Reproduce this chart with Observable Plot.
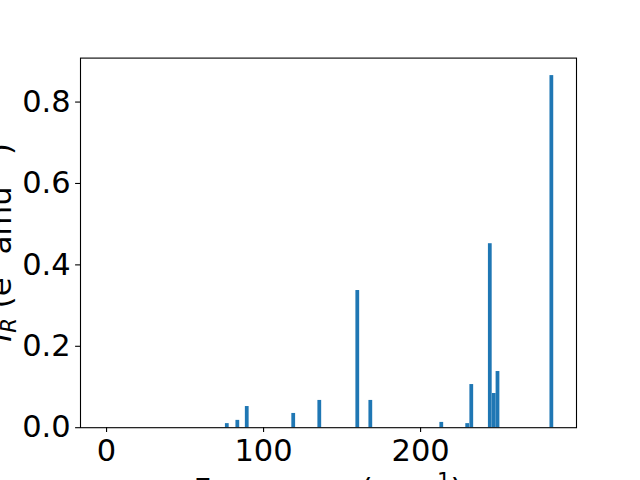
<!DOCTYPE html>
<html><head><meta charset="utf-8">
<script src="https://cdn.jsdelivr.net/npm/d3@7"></script>
<script src="https://cdn.jsdelivr.net/npm/@observablehq/plot@0.6"></script>
<style>body{margin:0;background:white} #chart svg{overflow:hidden;display:block}</style>
</head><body><div id="chart"></div>
<script>
// Data
const frequencies = [76.9, 83.6, 89.6, 119.2, 135.8, 160.0, 168.3, 213.5, 230.0, 232.6, 244.4, 246.9, 249.3, 283.6];
const intensities = [0.010, 0.018, 0.052, 0.035, 0.067, 0.337, 0.067, 0.013, 0.010, 0.106, 0.452, 0.084, 0.138, 0.865];
const xTicks = [0, 100, 200];
const yTicks = [0, 0.2, 0.4, 0.6, 0.8];
const xLabelMain = "Frequency (cm";
const xLabelSup = "\u22121";
const yLabelParts = ["I", "R", " (e", "2", " amu", "\u22121", ")"];

const data = frequencies.map((f, i) => ({f, v: intensities[i]}));
const BAR_W = 2.4;
const W = 640, H = 480, ML = 80, MR = 64, MT = 57.6, MB = 52.8;
const FS = 30.5;

const svg = Plot.plot({
  width: W, height: H,
  marginLeft: ML, marginRight: MR, marginTop: MT, marginBottom: MB,
  style: {fontFamily: "DejaVu Sans", fontSize: FS + "px", color: "black", background: "white"},
  x: {domain: [-16.6, 299.3]},
  y: {domain: [0, 0.908]},
  marks: [
    Plot.rectY(data, {x1: d => d.f - BAR_W / 2, x2: d => d.f + BAR_W / 2, y1: 0, y2: "v", fill: "#1f77b4"}),
    Plot.frame({stroke: "black", strokeWidth: 1.1}),
    Plot.axisX({ticks: xTicks, tickSize: 4.9, tickPadding: 6.5, label: null, strokeWidth: 1.1, tickFormat: d3.format("d")}),
    Plot.axisY({ticks: yTicks, tickSize: 4.9, tickPadding: 4.9, label: null, strokeWidth: 1.1, tickFormat: d3.format(".1f")})
  ]
});

const s = d3.select(svg);
// x label
const xl = s.append("text")
  .attr("x", ML + (W - ML - MR) / 2).attr("y", 500)
  .attr("text-anchor", "middle")
  .style("font-family", "DejaVu Sans").style("font-size", FS + "px").attr("fill", "black");
xl.append("tspan").text(xLabelMain);
xl.append("tspan").attr("dy", -12).style("font-size", (FS * 0.7) + "px").text(xLabelSup);
xl.append("tspan").attr("dy", 12).text(")");

// y label (rotated)
const yl = s.append("text")
  .attr("transform", `translate(11,${MT + (H - MT - MB) / 2}) rotate(-90)`)
  .attr("text-anchor", "middle")
  .style("font-family", "DejaVu Sans").style("font-size", FS + "px").attr("fill", "black");
yl.append("tspan").style("font-style", "italic").text(yLabelParts[0]);
yl.append("tspan").style("font-style", "italic").style("font-size", (FS * 0.7) + "px").attr("dy", 5).text(yLabelParts[1]);
yl.append("tspan").attr("dy", -5).text(yLabelParts[2]);
yl.append("tspan").style("font-size", (FS * 0.7) + "px").attr("dy", -12).text(yLabelParts[3]);
yl.append("tspan").attr("dy", 12).text(yLabelParts[4]);
yl.append("tspan").style("font-size", (FS * 0.7) + "px").attr("dy", -12).text(yLabelParts[5]);
yl.append("tspan").attr("dy", 12).text(yLabelParts[6]);

document.getElementById("chart").appendChild(svg);
</script>
</body></html>
